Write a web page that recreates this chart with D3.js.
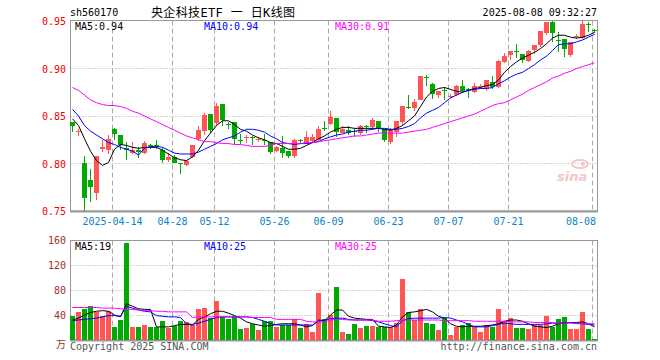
<!DOCTYPE html>
<html>
<head>
<meta charset="utf-8">
<script src="https://cdn.jsdelivr.net/npm/d3@7"></script>
<style>
  body { margin: 0; background: #fff; }
  svg { display: block; }
  text { font-family: "DejaVu Sans Mono", monospace; font-size: 10px; }
</style>
</head>
<body>
<svg id="chart" width="660" height="360"></svg>
<script>
// daily K-line for sh560170
const dates = [
  "2025-04-02","2025-04-03","2025-04-07","2025-04-08","2025-04-09","2025-04-10","2025-04-11",
  "2025-04-14","2025-04-15","2025-04-16","2025-04-17","2025-04-18",
  "2025-04-21","2025-04-22","2025-04-23","2025-04-24","2025-04-25",
  "2025-04-28","2025-04-29","2025-04-30",
  "2025-05-06","2025-05-07","2025-05-08","2025-05-09",
  "2025-05-12","2025-05-13","2025-05-14","2025-05-15","2025-05-16",
  "2025-05-19","2025-05-20","2025-05-21","2025-05-22","2025-05-23",
  "2025-05-26","2025-05-27","2025-05-28","2025-05-29","2025-05-30",
  "2025-06-03","2025-06-04","2025-06-05","2025-06-06",
  "2025-06-09","2025-06-10","2025-06-11","2025-06-12","2025-06-13",
  "2025-06-16","2025-06-17","2025-06-18","2025-06-19","2025-06-20",
  "2025-06-23","2025-06-24","2025-06-25","2025-06-26","2025-06-27",
  "2025-06-30","2025-07-01","2025-07-02","2025-07-03","2025-07-04",
  "2025-07-07","2025-07-08","2025-07-09","2025-07-10","2025-07-11",
  "2025-07-14","2025-07-15","2025-07-16","2025-07-17","2025-07-18",
  "2025-07-21","2025-07-22","2025-07-23","2025-07-24","2025-07-25",
  "2025-07-28","2025-07-29","2025-07-30","2025-07-31","2025-08-01",
  "2025-08-04","2025-08-05","2025-08-06","2025-08-07","2025-08-08"
];

const open = [
  0.844,0.833,0.800,0.783,0.769,0.815,0.814,
  0.836,0.830,0.816,0.811,0.814,
  0.811,0.820,0.819,0.814,0.804,
  0.807,0.8005,0.798,
  0.807,0.826,0.834,0.852,
  0.843,0.863,0.842,0.844,0.825,
  0.8265,0.828,0.825,0.825,0.823,
  0.8135,0.816,0.8135,0.808,0.8245,
  0.821,0.824,0.825,0.8375,
  0.842,0.848,0.832,0.835,0.8345,
  0.832,0.839,0.838,0.845,0.836,
  0.823,0.8335,0.844,0.8595,0.858,
  0.867,0.891,0.884,0.8725,0.877,
  0.871,0.872,0.882,0.878,0.875,
  0.881,0.878,0.886,0.881,0.9065,
  0.9145,0.9185,0.915,0.9075,0.919,
  0.9245,0.9375,0.949,0.9305,0.931,
  0.914,0.9335,0.932,0.947,0.941
];
const high = [
  0.844,0.836,0.808,0.794,0.808,0.825,0.830,
  0.837,0.830,0.823,0.823,0.817,
  0.824,0.821,0.825,0.816,0.811,
  0.809,0.8006,0.804,
  0.820,0.839,0.853,0.852,
  0.864,0.863,0.844,0.844,0.831,
  0.830,0.8285,0.828,0.831,0.823,
  0.818,0.829,0.8135,0.826,0.8255,
  0.834,0.831,0.839,0.845,
  0.855,0.848,0.839,0.839,0.837,
  0.8405,0.841,0.848,0.845,0.836,
  0.837,0.845,0.8605,0.872,0.868,
  0.892,0.893,0.885,0.876,0.881,
  0.873,0.883,0.888,0.8795,0.885,
  0.884,0.888,0.892,0.909,0.916,
  0.918,0.926,0.915,0.919,0.9245,
  0.940,0.949,0.950,0.938,0.931,
  0.928,0.9365,0.950,0.949,0.9415
];
const low = [
  0.833,0.829,0.750,0.759,0.762,0.812,0.810,
  0.825,0.814,0.804,0.810,0.806,
  0.810,0.815,0.815,0.801,0.802,
  0.800,0.789,0.797,
  0.806,0.824,0.830,0.832,
  0.840,0.840,0.836,0.821,0.821,
  0.822,0.819,0.823,0.820,0.810,
  0.812,0.806,0.806,0.806,0.821,
  0.8205,0.822,0.824,0.8345,
  0.8405,0.828,0.832,0.830,0.828,
  0.830,0.832,0.835,0.8335,0.8225,
  0.821,0.828,0.841,0.857,0.855,
  0.867,0.882,0.868,0.869,0.867,
  0.869,0.871,0.874,0.869,0.874,
  0.878,0.8765,0.878,0.8795,0.906,
  0.909,0.911,0.906,0.9065,0.915,
  0.923,0.9355,0.928,0.917,0.912,
  0.912,0.9315,0.9315,0.938,0.9375
];
const close = [
  0.839,0.834,0.764,0.775,0.808,0.817,0.826,
  0.831,0.819,0.814,0.814,0.812,
  0.822,0.818,0.818,0.804,0.807,
  0.801,0.800,0.803,
  0.819,0.835,0.851,0.835,
  0.860,0.846,0.8415,0.826,0.8245,
  0.8275,0.8275,0.826,0.8245,0.812,
  0.817,0.811,0.808,0.825,0.824,
  0.828,0.8275,0.836,0.837,
  0.849,0.8335,0.836,0.8325,0.834,
  0.839,0.8385,0.846,0.837,0.825,
  0.835,0.845,0.8605,0.859,0.865,
  0.892,0.8905,0.873,0.876,0.8765,
  0.8715,0.882,0.8765,0.8775,0.882,
  0.8815,0.888,0.881,0.908,0.913,
  0.918,0.918,0.909,0.918,0.9245,
  0.940,0.949,0.9375,0.930,0.920,
  0.928,0.934,0.947,0.9465,0.9405
];

// price moving averages (as drawn)
const ma5 = [
  0.847,0.840,0.826,0.813,0.803,0.798,0.801,
  0.815,0.820,0.819,0.817,0.816,
  0.817,0.817,0.817,0.814,0.810,
  0.806,0.804,0.803,
  0.807,0.814,0.824,0.832,
  0.840,0.845,0.845,0.841,0.836,
  0.834,0.830,0.827,0.825,0.822,
  0.821,0.818,0.815,0.815,0.816,
  0.819,0.822,0.826,0.829,
  0.833,0.836,0.838,0.838,0.837,
  0.837,0.837,0.837,0.837,0.836,
  0.835,0.837,0.840,0.845,0.850,
  0.860,0.870,0.876,0.879,0.880,
  0.878,0.876,0.875,0.877,0.879,
  0.880,0.882,0.883,0.888,0.896,
  0.902,0.907,0.911,0.914,0.917,
  0.921,0.926,0.932,0.935,0.935,
  0.933,0.932,0.933,0.935,0.938
];
const ma10 = [
  0.857,0.850,0.840,0.834,0.830,0.826,0.822,
  0.820,0.817,0.815,0.813,0.809,
  0.816,0.818,0.818,0.817,0.814,
  0.811,0.810,0.810,
  0.810,0.812,0.815,0.818,
  0.821,0.825,0.827,0.829,0.833,
  0.836,0.836,0.835,0.833,0.829,
  0.826,0.822,0.821,0.820,0.821,
  0.821,0.822,0.823,0.826,
  0.828,0.830,0.831,0.833,0.834,
  0.835,0.835,0.836,0.837,0.837,
  0.836,0.836,0.837,0.839,0.842,
  0.848,0.853,0.856,0.859,0.864,
  0.869,0.872,0.875,0.877,0.878,
  0.879,0.879,0.880,0.884,0.887,
  0.891,0.894,0.896,0.900,0.904,
  0.909,0.913,0.919,0.925,0.926,
  0.926,0.928,0.930,0.933,0.936
];
const ma30 = [
  0.880,0.877,0.872,0.867,0.864,0.862,0.861,
  0.861,0.860,0.858,0.855,0.853,
  0.850,0.847,0.844,0.841,0.838,
  0.835,0.832,0.829,
  0.827,0.825,0.823,0.823,
  0.822,0.821,0.821,0.820,0.820,
  0.819,0.818,0.818,0.818,0.819,
  0.821,0.821,0.821,0.821,0.821,
  0.822,0.822,0.823,0.824,
  0.825,0.826,0.827,0.828,0.829,
  0.829,0.830,0.831,0.832,0.832,
  0.832,0.832,0.832,0.833,0.834,
  0.835,0.836,0.838,0.840,0.842,
  0.844,0.846,0.848,0.850,0.852,
  0.855,0.858,0.861,0.863,0.864,
  0.867,0.870,0.873,0.877,0.880,
  0.883,0.886,0.890,0.892,0.895,
  0.897,0.900,0.902,0.904,0.906
];

// volume (万手) and its moving averages
const volume = [
  38,45,50,54,45,38,47,
  21,32,156,21,21,
  24,21,21,31,20,
  22,31,29,
  24,50,52,36,
  63,37,33,38,18,
  20,26,16,31,31,
  21,24,24,33,20,
  25,13,76,33,
  40,85,13,10,26,
  20,22,22,21,21,
  21,27,98,45,32,
  50,28,26,16,36,
  8,21,24,27,21,
  13,24,21,50,31,
  36,20,20,18,24,
  24,39,21,34,37,
  17,17,45,18,2
];
const volMa5 = [
  32,35,40,44,46,47,46,
  40,37,58,54,50,
  49,49,21,21,21,
  23,25,25,
  24,33,37,42,
  46,46,43,39,35,
  29,26,24,22,23,
  25,26,26,26,24,
  21,23,32,31,
  40,48,48,38,35,
  34,33,33,22,21,
  20,24,37,44,45,
  47,49,45,38,35,
  26,22,21,22,22,
  22,23,24,26,30,
  32,32,30,26,22,
  21,20,22,26,27,
  28,28,29,26,21
];
const volMa10 = [
  31,32,33,34,35,37,39,
  39,38,54,51,48,
  46,45,39,38,37,
  37,36,26,
  25,27,30,33,
  36,37,37,37,37,
  37,36,33,30,26,
  24,24,24,24,24,
  24,24,30,32,
  34,35,35,33,32,
  32,32,31,29,26,
  23,21,31,34,35,
  35,35,35,35,36,
  35,32,29,25,21,
  21,21,23,25,27,
  26,25,25,25,25,
  25,26,27,27,28,
  28,27,26,25,24
];
const volMa30 = [
  52,52,52,52,52,51,51,
  51,50,49,49,48,
  47,47,46,46,45,
  45,45,45,
  36,37,37,37,
  37,37,37,37,37,
  37,36,36,36,36,
  33,33,33,33,33,
  30,29,29,29,
  32,33,33,32,32,
  32,32,32,30,30,
  30,31,32,32,32,
  32,32,32,32,31,
  31,31,31,31,30,
  30,30,30,30,30,
  29,29,29,29,28,
  28,28,28,27,27,
  27,26,26,26,26
];

const priceTicks = [0.95, 0.90, 0.85, 0.80, 0.75];
const priceGrid = [0.90, 0.85, 0.80];
const volTicks = [160, 120, 80, 40];
const labelDates = ["2025-04-14","2025-04-28","2025-05-12","2025-05-26","2025-06-09",
                    "2025-06-23","2025-07-07","2025-07-21","2025-08-08"];
const priceLegend = ["MA5:0.94", "MA10:0.94", "MA30:0.91"];
const volLegend = ["MA5:19", "MA10:25", "MA30:25"];
const maColors = ["#000000", "#0000ff", "#ff00ff"];

const red = "#ff5555", green = "#00aa00", grid = "#aaaaaa", frame = "#999999";

let svg = d3.select("#chart");

// panels
let left = 70.5, right = 597.5;
let pTop = 20.5, pBot = 211, vTop = 240.5, vBot = 340;

let x = d3.scaleBand().domain(dates).range([69.5, 597.5]);
let yP = d3.scaleLinear().domain([0.75, 0.95]).range([211, 21]);
let yV = d3.scaleLinear().domain([0, 160]).range([340, 240]);
let cx = d => x(d) + 3;

//header texts
svg.append("text").attr("x", 70).attr("y", 16).text("sh560170");
svg.append("text").attr("x", 151).attr("y", 17)
    .attr("textLength", 144).attr("lengthAdjust", "spacing")
    .style("font-family", '"DejaVu Sans Mono", "Noto Sans CJK SC", sans-serif')
    .style("font-size", "12px")
    .text("央企科技ETF 一 日K线图");
svg.append("text").attr("x", 597).attr("y", 16).attr("text-anchor", "end")
    .text("2025-08-08 09:32:27");

//grid lines
function dashedVerticals(y0, y1) {
    svg.append("g").selectAll("line")
        .data(labelDates)
        .enter()
        .append("line")
        .attr("x1", d => x(d) + 1).attr("x2", d => x(d) + 1)
        .attr("y1", y0).attr("y2", y1)
        .attr("stroke", grid)
        .attr("stroke-dasharray", "5,3");
}
dashedVerticals(pTop, pBot);
dashedVerticals(vTop, vBot);

svg.append("g").selectAll("line")
    .data(priceGrid)
    .enter()
    .append("line")
    .attr("x1", left).attr("x2", right)
    .attr("y1", d => Math.round(yP(d)) + 0.5).attr("y2", d => Math.round(yP(d)) + 0.5)
    .attr("stroke", grid)
    .attr("stroke-dasharray", "1,2");

svg.append("g").selectAll("line")
    .data(volTicks.slice(1))
    .enter()
    .append("line")
    .attr("x1", left).attr("x2", right)
    .attr("y1", d => Math.round(yV(d)) + 0.5).attr("y2", d => Math.round(yV(d)) + 0.5)
    .attr("stroke", grid)
    .attr("stroke-dasharray", "1,2");

//frames
svg.append("rect").attr("x", left).attr("y", pTop)
    .attr("width", right - left).attr("height", pBot - pTop)
    .attr("fill", "none").attr("stroke", frame);
svg.append("line").attr("x1", left - 0.5).attr("x2", right + 0.5)
    .attr("y1", pBot + 0.5).attr("y2", pBot + 0.5)
    .attr("stroke", frame).attr("stroke-width", 2);
svg.append("rect").attr("x", left).attr("y", vTop)
    .attr("width", right - left).attr("height", vBot - vTop)
    .attr("fill", "none").attr("stroke", frame);
svg.append("line").attr("x1", left - 0.5).attr("x2", right + 0.5)
    .attr("y1", vBot + 0.5).attr("y2", vBot + 0.5)
    .attr("stroke", frame).attr("stroke-width", 2);

//y axis labels, price
svg.append("g").selectAll("text")
    .data(priceTicks)
    .enter()
    .append("text")
    .attr("x", 66)
    .attr("y", d => yP(d) + 4)
    .attr("text-anchor", "end")
    .attr("fill", "#ee0000")
    .text(d => d3.format(".2f")(d));

//y axis labels, volume
svg.append("g").selectAll("text")
    .data(volTicks)
    .enter()
    .append("text")
    .attr("x", 66)
    .attr("y", d => yV(d) + 4)
    .attr("text-anchor", "end")
    .attr("fill", "#a03030")
    .text(d => d);
svg.append("text").attr("x", 66).attr("y", 348).attr("text-anchor", "end")
    .attr("fill", "#a03030")
    .style("font-family", '"Noto Sans CJK SC", sans-serif')
    .text("万");

//date labels, the last one kept inside the frame
svg.append("g").selectAll("text")
    .data(labelDates)
    .enter()
    .append("text")
    .attr("y", 225)
    .attr("fill", "#0b83c8")
    .attr("text-anchor", (d, i) => i == labelDates.length - 1 ? "end" : "middle")
    .attr("x", (d, i) => i == labelDates.length - 1 ? 596 : x(d) + 1)
    .text((d, i) => i == 0 ? d : d.slice(5));

//watermark
svg.append("text").attr("x", 557).attr("y", 181)
    .attr("fill", "#f5c6c6")
    .style("font-family", '"DejaVu Sans", sans-serif')
    .style("font-size", "13px").style("font-style", "italic").style("font-weight", "bold")
    .text("sina");
svg.append("ellipse").attr("cx", 580).attr("cy", 164).attr("rx", 8).attr("ry", 4)
    .attr("fill", "none").attr("stroke", "#f5c6c6").attr("stroke-width", 2);
svg.append("circle").attr("cx", 583).attr("cy", 164).attr("r", 2).attr("fill", "#f5c6c6");

//candles
let candles = svg.append("g");
candles.selectAll("rect.wick")
    .data(dates)
    .enter()
    .append("rect")
    .attr("class", "wick")
    .attr("x", d => cx(d) - 0.5)
    .attr("width", 1)
    .attr("y", (d, i) => Math.round(yP(high[i])))
    .attr("height", (d, i) => Math.max(1, Math.round(yP(low[i])) - Math.round(yP(high[i]))))
    .attr("fill", (d, i) => close[i] >= open[i] ? red : green);

candles.selectAll("rect.body")
    .data(dates)
    .enter()
    .append("rect")
    .attr("class", "body")
    .attr("x", d => x(d) + 0.5)
    .attr("width", 5)
    .attr("y", (d, i) => Math.round(yP(Math.max(open[i], close[i]))))
    .attr("height", (d, i) => Math.max(1, Math.round(yP(Math.min(open[i], close[i]))) - Math.round(yP(Math.max(open[i], close[i])))))
    .attr("fill", (d, i) => close[i] >= open[i] ? red : green);

//volume bars
svg.append("g").selectAll("rect")
    .data(dates)
    .enter()
    .append("rect")
    .attr("x", d => x(d) + 0.5)
    .attr("width", 5)
    .attr("y", (d, i) => Math.round(yV(volume[i])))
    .attr("height", (d, i) => vBot - Math.round(yV(volume[i])))
    .attr("fill", (d, i) => close[i] >= open[i] ? red : green);

//moving average lines
function maLine(values, yScale, color) {
    let lineFun = d3.line()
        .x((d, i) => cx(dates[i]))
        .y(d => yScale(d))
        .curve(d3.curveLinear);
    svg.append("path")
        .attr("d", lineFun(values))
        .attr("fill", "none")
        .attr("stroke", color)
        .attr("stroke-width", 1);
}
[ma5, ma10, ma30].forEach((m, k) => maLine(m, yP, maColors[k]));
[volMa5, volMa10, volMa30].forEach((m, k) => maLine(m, yV, maColors[k]));

//legends
let legendX = [75, 204, 335];
priceLegend.forEach((t, k) => {
    svg.append("text").attr("x", legendX[k]).attr("y", 30)
        .attr("fill", maColors[k]).text(t);
});
volLegend.forEach((t, k) => {
    svg.append("text").attr("x", legendX[k]).attr("y", 250)
        .attr("fill", maColors[k]).text(t);
});

//footer
svg.append("text").attr("x", 70).attr("y", 350).attr("fill", "#555")
    .text("Copyright 2025 SINA.COM");
svg.append("text").attr("x", 597).attr("y", 350).attr("fill", "#555")
    .attr("text-anchor", "end")
    .text("http://finance.sina.com.cn");
</script>
</body>
</html>
